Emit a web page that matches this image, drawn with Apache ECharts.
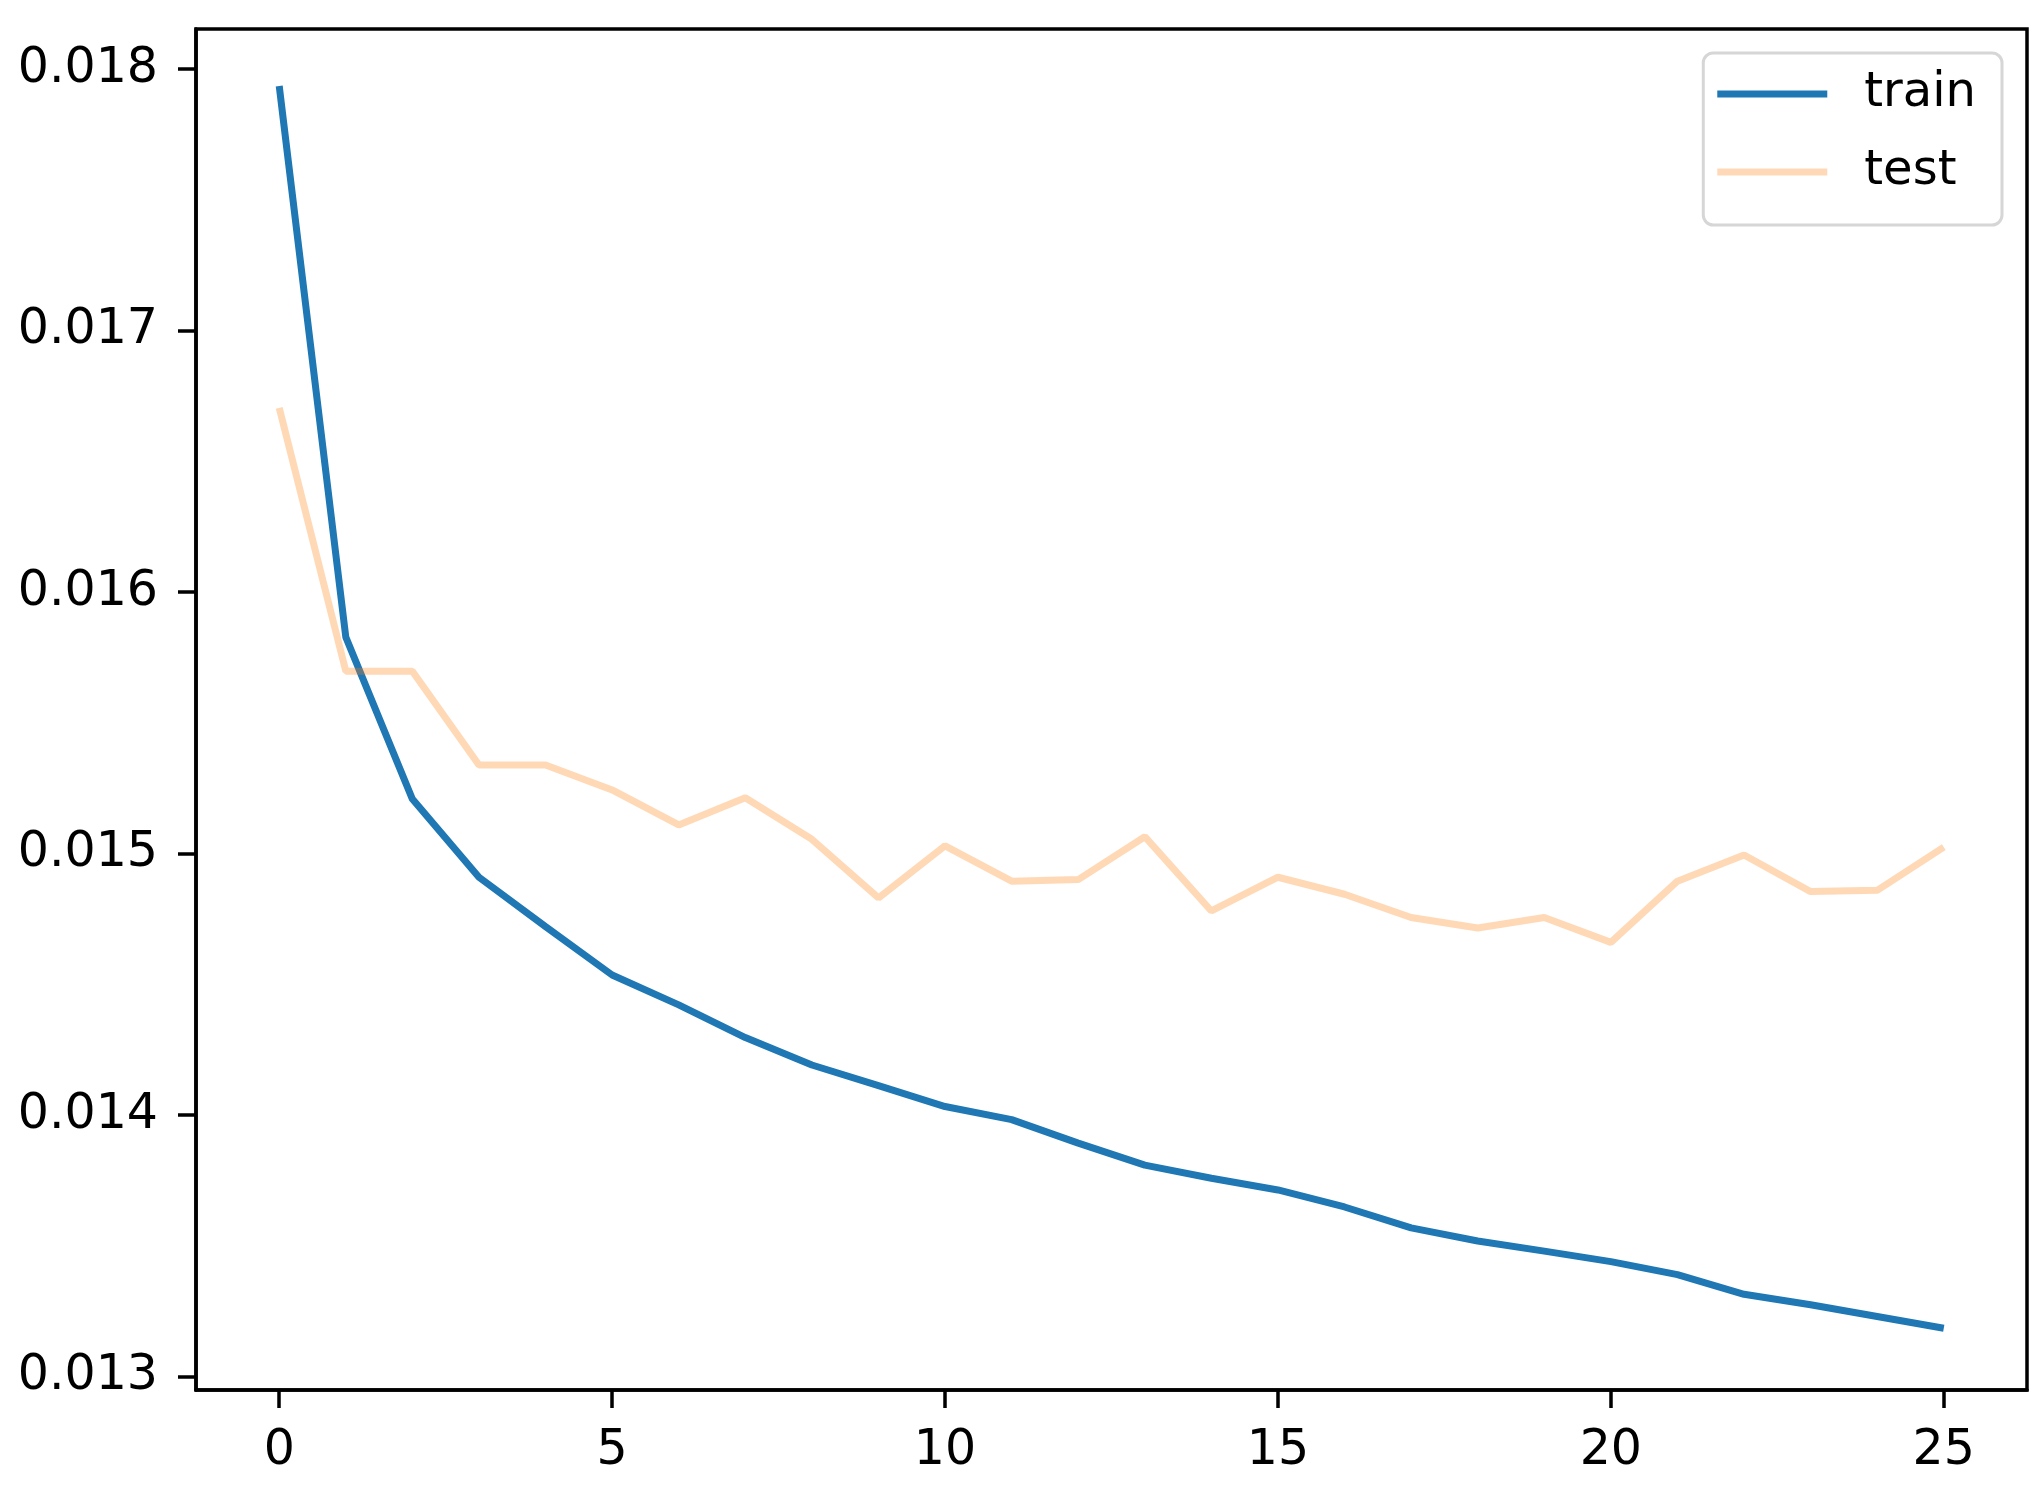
<!DOCTYPE html>
<html>
<head>
<meta charset="utf-8">
<script src="https://cdn.jsdelivr.net/npm/echarts@6/dist/echarts.min.js"></script>
<style>
  html, body { margin: 0; padding: 0; background: #fff; }
  #chart { width: 2044px; height: 1502px; }
</style>
</head>
<body>
<div id="chart"></div>
<script>
// loss per epoch
const epochs = [0, 1, 2, 3, 4, 5, 6, 7, 8, 9, 10, 11, 12, 13, 14, 15, 16, 17, 18, 19, 20, 21, 22, 23, 24, 25];
const trainLoss = [0.017935, 0.015827, 0.015208, 0.014909, 0.014720, 0.014535, 0.014421, 0.014296, 0.014191, 0.014112,
                   0.014032, 0.013982, 0.013892, 0.013808, 0.013758, 0.013713, 0.013648, 0.013568, 0.013518, 0.013479,
                   0.013439, 0.013389, 0.013314, 0.013274, 0.013229, 0.013184];
const testLoss = [0.016704, 0.015697, 0.015697, 0.015338, 0.015338, 0.015243, 0.015109, 0.015213, 0.015054, 0.014830,
                  0.015029, 0.014894, 0.014900, 0.015064, 0.014780, 0.014909, 0.014844, 0.014755, 0.014715, 0.014755,
                  0.014660, 0.014894, 0.014994, 0.014854, 0.014859, 0.015024];
const xTicks = [0, 5, 10, 15, 20, 25];
const yTicks = [0.013, 0.014, 0.015, 0.016, 0.017, 0.018];

const font = 'DejaVu Sans';
const chart = echarts.init(document.getElementById('chart'), null, { renderer: 'canvas' });

const option = {
  animation: false,
  backgroundColor: '#fff',
  grid: {
    left: 196, right: 17, top: 29, bottom: 112,
    show: true, borderColor: '#000', borderWidth: 3.5, backgroundColor: 'transparent'
  },
  legend: {
    orient: 'vertical',
    right: 42, top: 53,
    icon: 'rect',
    itemWidth: 110, itemHeight: 7,
    itemGap: 30,
    padding: [17, 26, 29, 14],
    backgroundColor: 'rgba(255,255,255,0.8)',
    borderColor: '#d6d6d6', borderWidth: 3, borderRadius: 10,
    textStyle: { fontFamily: font, fontSize: 48, color: '#000', lineHeight: 47, padding: [0, 0, 0, 32] },
    data: [
      { name: 'train', itemStyle: { color: '#1f77b4' } },
      { name: 'test', itemStyle: { color: '#ffd9b7' } }
    ]
  },
  xAxis: {
    type: 'value',
    min: -1.25, max: 26.25,
    splitLine: { show: false },
    axisLine: { show: true, onZero: false, lineStyle: { color: '#000', width: 3.5 } },
    axisTick: { show: true, length: 18, customValues: xTicks, lineStyle: { color: '#000', width: 3.5 } },
    axisLabel: { customValues: xTicks, margin: 37, fontFamily: font, fontSize: 49, color: '#000' }
  },
  yAxis: {
    type: 'value',
    min: 0.012948, max: 0.018153,
    splitLine: { show: false },
    axisLine: { show: true, onZero: false, lineStyle: { color: '#000', width: 3.5 } },
    axisTick: { show: true, length: 18, customValues: yTicks, lineStyle: { color: '#000', width: 3.5 } },
    axisLabel: {
      customValues: yTicks, margin: 38, fontFamily: font, fontSize: 49, color: '#000',
      formatter: v => v.toFixed(3)
    }
  },
  series: [
    {
      name: 'train', type: 'line', symbol: 'none', z: 2,
      data: epochs.map((e, i) => [e, trainLoss[i]]),
      lineStyle: { color: '#1f77b4', width: 7 },
      itemStyle: { color: '#1f77b4' }
    },
    {
      name: 'test', type: 'line', symbol: 'none', z: 3,
      data: epochs.map((e, i) => [e, testLoss[i]]),
      lineStyle: { color: '#ff7f0e', width: 7, opacity: 0.3 },
      itemStyle: { color: '#ffd9b7' }
    }
  ]
};
chart.setOption(option);
</script>
</body>
</html>
